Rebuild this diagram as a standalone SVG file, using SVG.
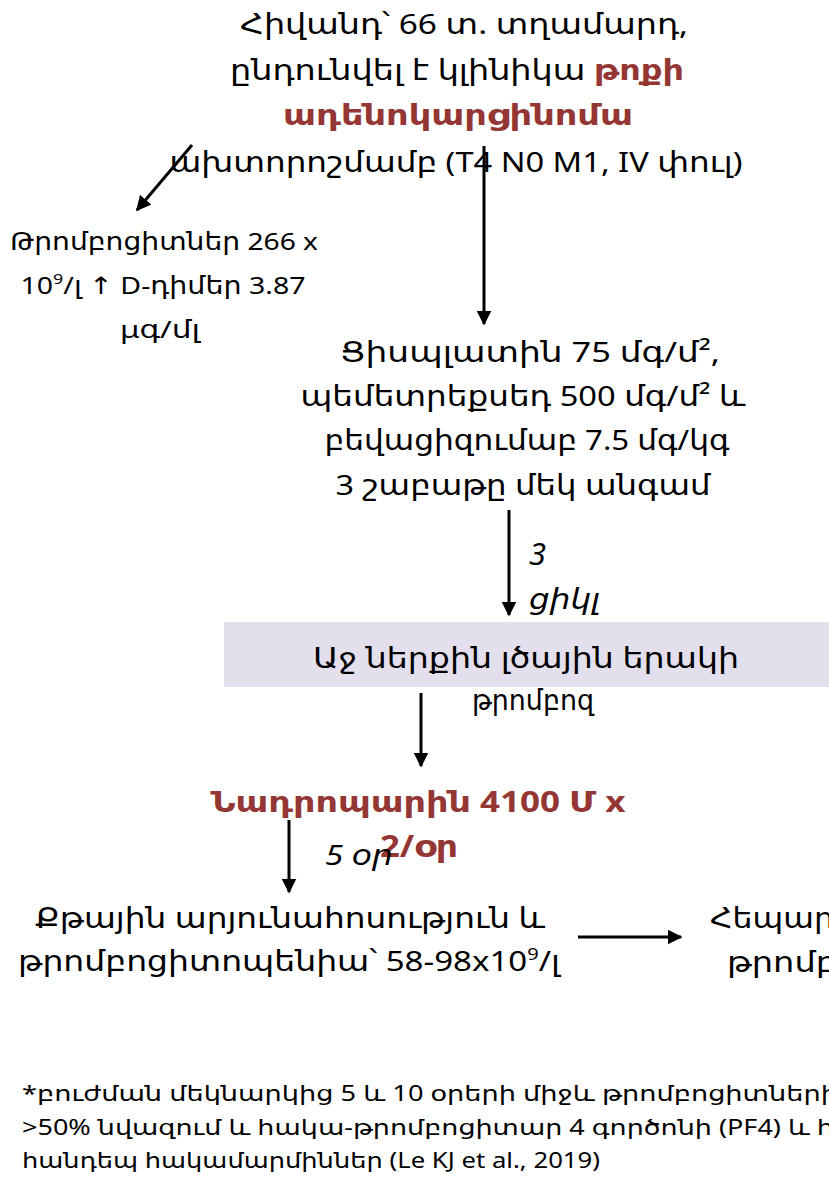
<svg xmlns="http://www.w3.org/2000/svg" width="829" height="1182" viewBox="0 0 829 1182">
<defs>
<style>
text{font-family:"Noto Sans","DejaVu Sans","Liberation Sans",sans-serif;fill:#000;}
.m{font-size:28px;text-anchor:middle;}
.s{font-size:24px;text-anchor:middle;}
.r{fill:#943634;font-weight:bold;}
.i{font-style:italic;font-size:28px;}
.f{font-size:22px;}
.c{stroke:#000;stroke-width:3;fill:none;}
</style>
<marker id="ah" viewBox="0 0 10 10" refX="9" refY="5" markerWidth="5" markerHeight="5" orient="auto" markerUnits="strokeWidth">
<path d="M0,0 L10,5 L0,10 z" fill="#000"/>
</marker>
</defs>
<rect width="829" height="1182" fill="#fff"/>
<g id="patient">
<text class="m" x="464" y="34" textLength="448" lengthAdjust="spacingAndGlyphs">Հիվանդ՝ 66 տ. տղամարդ,</text>
<text class="m" x="457" y="80" textLength="454" lengthAdjust="spacingAndGlyphs">ընդունվել է կլինիկա <tspan class="r">թոքի</tspan></text>
<text class="m r" x="458" y="125" textLength="350" lengthAdjust="spacingAndGlyphs">ադենոկարցինոմա</text>
<text class="m" x="456" y="172" textLength="573" lengthAdjust="spacingAndGlyphs">ախտորոշմամբ (T4 N0 M1, IV փուլ)</text>
</g>
<g id="labs">
<text class="s" x="164" y="250" textLength="308" lengthAdjust="spacingAndGlyphs">Թրոմբոցիտներ 266 x</text>
<text class="s" x="163" y="294" textLength="285" lengthAdjust="spacingAndGlyphs">10<tspan font-size="15" dy="-10">9</tspan><tspan dy="10">/լ ↑ D-դիմեր 3.87</tspan></text>
<text class="s" x="160" y="338" textLength="80" lengthAdjust="spacingAndGlyphs">μգ/մլ</text>
</g>
<g id="chemo">
<text class="m" x="530" y="362" textLength="380" lengthAdjust="spacingAndGlyphs">Ցիսպլատին 75 մգ/մ², </text>
<text class="m" x="523" y="406" textLength="445" lengthAdjust="spacingAndGlyphs">պեմետրեքսեդ 500 մգ/մ² և</text>
<text class="m" x="527" y="450" textLength="405" lengthAdjust="spacingAndGlyphs">բեվացիզումաբ 7.5 մգ/կգ</text>
<text class="m" x="523" y="495" textLength="375" lengthAdjust="spacingAndGlyphs">3 շաբաթը մեկ անգամ</text>
</g>
<g id="cycles">
<text class="i" style="font-size:31px" x="529" y="565">3</text>
<text class="i" x="529" y="609" textLength="71" lengthAdjust="spacingAndGlyphs">ցիկլ</text>
</g>
<g id="thrombosis">
<rect x="224" y="622" width="610" height="65" fill="#e4dfec"/>
<text class="m" x="526" y="668" textLength="426" lengthAdjust="spacingAndGlyphs">Աջ ներքին լծային երակի</text>
<text class="m" x="533" y="710" textLength="122" lengthAdjust="spacingAndGlyphs">թրոմբոզ</text>
</g>
<g id="nadroparin">
<text class="m r" x="418" y="812" textLength="415" lengthAdjust="spacingAndGlyphs">Նադրոպարին 4100 Մ x</text>
<text class="m r" style="font-size:31px" x="419" y="857" textLength="78" lengthAdjust="spacingAndGlyphs">2/օր</text>
</g>
<g id="days">
<text class="i" x="325" y="865" textLength="68" lengthAdjust="spacingAndGlyphs">5 օր</text>
</g>
<g id="bleeding">
<text class="m" x="290" y="928" textLength="510" lengthAdjust="spacingAndGlyphs">Քթային արյունահոսություն և</text>
<text class="m" x="289" y="971" textLength="542" lengthAdjust="spacingAndGlyphs">թրոմբոցիտոպենիա՝ 58-98x10<tspan font-size="17" dy="-11">9</tspan><tspan dy="11">/լ</tspan></text>
</g>
<g id="heparin">
<text style="font-size:28px" x="710" y="928" textLength="124" lengthAdjust="spacingAndGlyphs">Հեպար</text>
<text style="font-size:28px" x="727" y="972" textLength="110" lengthAdjust="spacingAndGlyphs">թրոմբ</text>
</g>
<g id="connectors">
<line class="c" x1="192" y1="145" x2="137" y2="210" marker-end="url(#ah)"/>
<line class="c" x1="484" y1="146" x2="484" y2="324" marker-end="url(#ah)"/>
<line class="c" x1="509" y1="510" x2="509" y2="615" marker-end="url(#ah)"/>
<line class="c" x1="421" y1="693" x2="421" y2="766" marker-end="url(#ah)"/>
<line class="c" x1="289" y1="820" x2="289" y2="892" marker-end="url(#ah)"/>
<line class="c" x1="578" y1="937" x2="681" y2="937" marker-end="url(#ah)"/>
</g>
<g id="footnote">
<text class="f" x="22" y="1101" textLength="816" lengthAdjust="spacingAndGlyphs">*բուժման մեկնարկից 5 և 10 օրերի միջև թրոմբոցիտների</text>
<text class="f" x="22" y="1135" textLength="812" lengthAdjust="spacingAndGlyphs">&gt;50% նվազում և հակա-թրոմբոցիտար 4 գործոնի (PF4) և հ</text>
<text class="f" x="22" y="1168" textLength="578" lengthAdjust="spacingAndGlyphs">հանդեպ հակամարմիններ (Le KJ et al., 2019)</text>
</g>
</svg>
